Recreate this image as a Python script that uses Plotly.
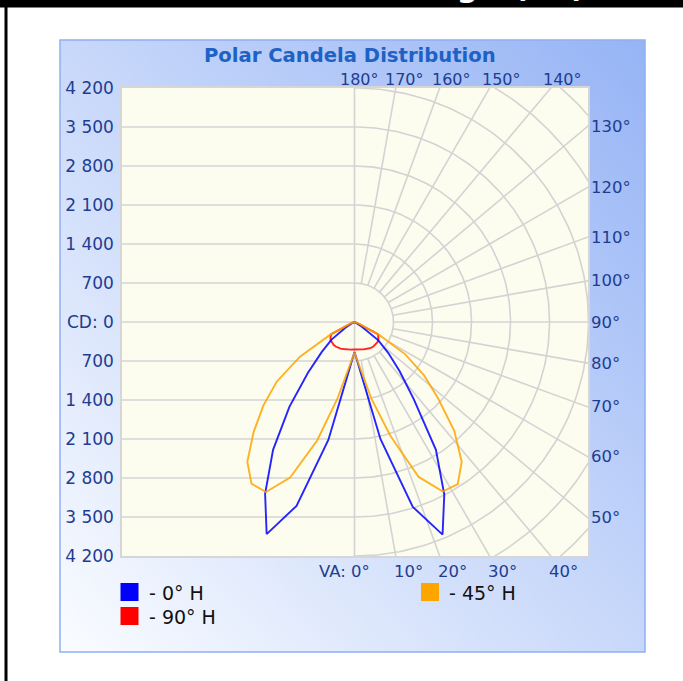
import math, zlib, struct, base64
import plotly.graph_objects as go

# ---------------- data ----------------
VA = [0, 2.5, 7.5, 12.5, 17.5, 22.5, 27.5, 32.5, 37.5, 42.5, 47.5, 52.5,
      57.5, 62.5, 67.5, 72.5, 77.5, 82.5, 87.5, 90]
CD_0H_RIGHT  = [540, 630, 975, 2150, 3480, 4130, 3490, 2720, 1750, 1200, 820, 540, 150, 40, 10, 0, 0, 0, 0, 0]
CD_0H_LEFT   = [540, 630, 975, 2170, 3460, 4120, 3475, 2720, 1920, 1240, 800, 520, 200, 50, 10, 0, 0, 0, 0, 0]
CD_45H_RIGHT = [550, 625, 865, 1420, 2140, 3010, 3430, 3450, 3160, 2650, 2040, 1575, 1080, 505, 80, 15, 0, 0, 0, 0]
CD_45H_LEFT  = [550, 625, 865, 1400, 2230, 3020, 3440, 3440, 3160, 2680, 2220, 1760, 1160, 490, 80, 15, 0, 0, 0, 0]
CD_90H_RIGHT = [495, 495, 500, 505, 515, 525, 540, 550, 555, 555, 550, 540, 510, 480, 75, 12, 0, 0, 0, 0]
CD_90H_LEFT  = [495, 495, 500, 505, 515, 525, 540, 550, 555, 555, 550, 540, 510, 470, 75, 12, 0, 0, 0, 0]

SERIES_NAMES  = ["- 0° H", "- 45° H", "- 90° H"]
SERIES_COLORS = ["#0000ff", "#ffa500", "#ff0000"]

CD_TICKS = [-4200, -3500, -2800, -2100, -1400, -700, 0, 700, 1400, 2100, 2800, 3500, 4200]
ARC_RADII = [700, 1400, 2100, 2800, 3500, 4200, 4900, 5600]
RADIAL_ANGLES = [10, 20, 30, 40, 50, 60, 70, 80, 90, 100, 110, 120, 130, 140, 150, 160, 170]
BOTTOM_LABEL_ANGLES = [0, 10, 20, 30, 40]
RIGHT_LABEL_ANGLES = [50, 60, 70, 80, 90, 100, 110, 120, 130]
TOP_LABEL_ANGLES = [180, 170, 160, 150, 140]

TITLE = "Polar Candela Distribution"
HEADER_TEXT = "Candela Rating – (Cd)"

# ---------------- geometry ----------------
W, H = 683, 681
ML, MR, MT, MB = 122, 95, 88, 125
PW, PH = W - ML - MR, H - MT - MB
X_RANGE = [-4173, 4191]
Y_RANGE = [-4200, 4200]
SCALE = PH / (Y_RANGE[1] - Y_RANGE[0])  # px per cd

def pxx(px):
    return (px - ML) / PW

def pxy(py):
    return 1 - (py - MT) / PH

LABEL_COLOR = "#1f3d90"
FONT = "DejaVu Sans"
GRID_COLOR = "#d3d3d3"
LBL = 16.5

def polar_xy(cd_left, cd_right):
    xs, ys = [], []
    for a, c in reversed(list(zip(VA, cd_left))):
        r = math.radians(a)
        xs.append(-c * math.sin(r)); ys.append(-c * math.cos(r))
    for a, c in zip(VA, cd_right):
        r = math.radians(a)
        xs.append(c * math.sin(r)); ys.append(-c * math.cos(r))
    return xs, ys

fig = go.Figure()

# ---- grid ----
gx, gy = [], []
for v in CD_TICKS[1:-1]:
    gx += [X_RANGE[0], 0, None]; gy += [v, v, None]
gx += [0, 0, None]; gy += [Y_RANGE[0], Y_RANGE[1], None]
for rr in ARC_RADII:
    for k in range(0, 181):
        t = math.radians(k)
        gx.append(rr * math.sin(t)); gy.append(-rr * math.cos(t))
    gx.append(None); gy.append(None)
for a in RADIAL_ANGLES:
    t = math.radians(a)
    gx += [700 * math.sin(t), 7000 * math.sin(t), None]
    gy += [-700 * math.cos(t), -7000 * math.cos(t), None]
fig.add_trace(go.Scatter(x=gx, y=gy, mode="lines", line=dict(color=GRID_COLOR, width=1.6),
                         hoverinfo="skip", showlegend=False))

# ---- series ----
series = [
    (SERIES_NAMES[2], SERIES_COLORS[2], CD_90H_LEFT, CD_90H_RIGHT),
    (SERIES_NAMES[0], SERIES_COLORS[0], CD_0H_LEFT, CD_0H_RIGHT),
    (SERIES_NAMES[1], SERIES_COLORS[1], CD_45H_LEFT, CD_45H_RIGHT),
]
for name, col, cl, cr in series:
    xs, ys = polar_xy(cl, cr)
    fig.add_trace(go.Scatter(x=xs, y=ys, mode="lines", name=name,
                             line=dict(color=col, width=1.9), opacity=0.85, showlegend=False))

# ---- panel gradient image ----
def gradient_png(w, h):
    c0 = (250, 252, 255); c1 = (150, 180, 245)
    rows = []
    for j in range(h):
        v = j / (h - 1)
        row = bytearray([0])
        for i in range(w):
            u = i / (w - 1)
            t = (u + (1 - v)) / 2
            row += bytes(int(round(c0[k] + (c1[k] - c0[k]) * t)) for k in range(3))
        rows.append(bytes(row))
    raw = b"".join(rows)
    def chunk(tag, data):
        return struct.pack(">I", len(data)) + tag + data + struct.pack(">I", zlib.crc32(tag + data) & 0xffffffff)
    png = (b"\x89PNG\r\n\x1a\n" + chunk(b"IHDR", struct.pack(">IIBBBBB", w, h, 8, 2, 0, 0, 0))
           + chunk(b"IDAT", zlib.compress(raw, 9)) + chunk(b"IEND", b""))
    return "data:image/png;base64," + base64.b64encode(png).decode()

PANEL = (60, 40, 645, 652)
images = [dict(source=gradient_png(195, 204), xref="paper", yref="paper",
               x=pxx(PANEL[0]), y=pxy(PANEL[1]), sizex=(PANEL[2] - PANEL[0]) / PW,
               sizey=(PANEL[3] - PANEL[1]) / PH, xanchor="left", yanchor="top",
               sizing="stretch", layer="below")]

shapes = [
    dict(type="rect", xref="paper", yref="paper", x0=0, x1=1, y0=0, y1=1,
         fillcolor="#fdfdef", line=dict(width=0), layer="below"),
    dict(type="rect", xref="paper", yref="paper", x0=pxx(PANEL[0]), x1=pxx(PANEL[2]),
         y0=pxy(PANEL[3]), y1=pxy(PANEL[1]), line=dict(color="#8fb0f2", width=1.5),
         fillcolor="rgba(0,0,0,0)", layer="below"),
    dict(type="rect", xref="paper", yref="paper", x0=pxx(-2), x1=pxx(W + 2), y0=pxy(7.5), y1=pxy(-2),
         fillcolor="black", line=dict(width=0), layer="below"),
    dict(type="rect", xref="paper", yref="paper", x0=pxx(4.5), x1=pxx(7.5), y0=pxy(H + 2), y1=pxy(0),
         fillcolor="black", line=dict(width=0)),
]

annotations = []
annotations.append(dict(text="<b>" + TITLE + "</b>", xref="paper", yref="paper", x=pxx(349.5), y=pxy(55.5),
                        xanchor="center", yanchor="middle", showarrow=False,
                        font=dict(family=FONT, size=19.6, color="#1d62c4")))
annotations.append(dict(text="<b>" + HEADER_TEXT + "</b>", xref="paper", yref="paper",
                        x=pxx(587), y=pxy(-13.5), xanchor="right", yanchor="middle", showarrow=False,
                        font=dict(family=FONT, size=30, color="white")))

TOP_SHIFT = {180: -16.5, 170: -13}
for a in TOP_LABEL_ANGLES:
    annotations.append(dict(text=f"{a}°", xref="x", yref="paper",
                            x=Y_RANGE[1] * math.tan(math.radians(180 - a)), y=pxy(79.5),
                            xshift=TOP_SHIFT.get(a, -10),
                            xanchor="left", yanchor="middle", showarrow=False,
                            font=dict(family=FONT, size=16, color=LABEL_COLOR)))
for a in BOTTOM_LABEL_ANGLES:
    xd = -Y_RANGE[0] * math.tan(math.radians(a))
    if a == 0:
        annotations.append(dict(text=f"VA: {a}°", xref="x", yref="paper", x=xd, y=pxy(571.5),
                                xshift=17, xanchor="right", yanchor="middle", showarrow=False,
                                font=dict(family=FONT, size=LBL, color=LABEL_COLOR)))
    else:
        annotations.append(dict(text=f"{a}°", xref="x", yref="paper", x=xd, y=pxy(571.5),
                                xshift=-4, xanchor="left", yanchor="middle", showarrow=False,
                                font=dict(family=FONT, size=LBL, color=LABEL_COLOR)))
for a in RIGHT_LABEL_ANGLES:
    t = math.radians(a)
    yd = -X_RANGE[1] * math.cos(t) / math.sin(t)
    annotations.append(dict(text=f"{a}°", xref="paper", yref="y", x=pxx(589), y=yd,
                            xanchor="left", yanchor="middle", showarrow=False,
                            font=dict(family=FONT, size=LBL, color=LABEL_COLOR)))

# ---- manual legend ----
legend_items = [(SERIES_NAMES[0], SERIES_COLORS[0], 120.5, 583),
                (SERIES_NAMES[1], SERIES_COLORS[1], 421, 583),
                (SERIES_NAMES[2], SERIES_COLORS[2], 120.5, 607)]
for name, col, lx, ly in legend_items:
    shapes.append(dict(type="rect", xref="paper", yref="paper", x0=pxx(lx), x1=pxx(lx + 18),
                       y0=pxy(ly + 18), y1=pxy(ly), fillcolor=col, line=dict(width=0)))
    annotations.append(dict(text=name, xref="paper", yref="paper", x=pxx(lx + 26), y=pxy(ly + 9.5),
                            xanchor="left", yanchor="middle", showarrow=False,
                            font=dict(family=FONT, size=19, color="#111111")))

tick_text = ["CD: 0" if v == 0 else f"{abs(v):,}".replace(",", " ") for v in CD_TICKS]

fig.update_layout(
    width=W, height=H, margin=dict(l=ML, r=MR, t=MT, b=MB, pad=0),
    paper_bgcolor="white", plot_bgcolor="rgba(0,0,0,0)",
    showlegend=False, images=images, shapes=shapes, annotations=annotations,
    xaxis=dict(range=X_RANGE, showgrid=False, zeroline=False, showticklabels=False,
               showline=True, mirror=True, linecolor="#d6d6d6", linewidth=1.5, fixedrange=True),
    yaxis=dict(range=Y_RANGE, showgrid=False, zeroline=False, tickvals=CD_TICKS, ticktext=tick_text,
               ticklabelstandoff=3, tickfont=dict(family=FONT, size=17, color=LABEL_COLOR),
               showline=True, mirror=True, linecolor="#d6d6d6", linewidth=1.5, fixedrange=True),
)

fig.write_html("out.html", config={"displayModeBar": False},
               post_script="document.body.style.margin='0px';")
